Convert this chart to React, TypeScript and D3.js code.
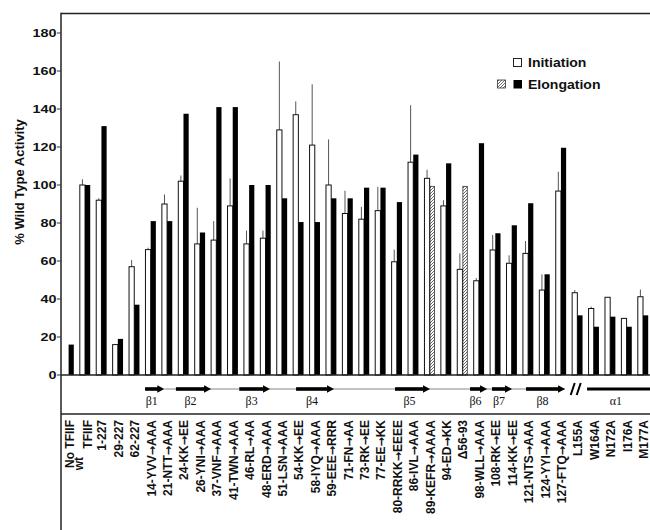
import React from 'react'
import * as d3 from 'd3'

// mutants along the x axis
const labels = [
  'No TFIIF', 'wt TFIIF', '1-227', '29-227', '62-227',
  '14-YVV→AAA', '21-NTT→AAA', '24-KK→EE', '26-YNI→AAA', '37-VNF→AAA',
  '41-TWN→AAA', '46-RL→AA', '48-ERD→AAA', '51-LSN→AAA', '54-KK→EE',
  '58-IYQ→AAA', '59-EEE→RRR', '71-FN→AA', '73-RK→EE', '77-EE→KK',
  '80-RRKK→EEEE', '86-IVL→AAA', '89-KEFR→AAAA', '94-ED→KK', 'Δ56-93',
  '98-WLL→AAA', '108-RK→EE', '114-KK→EE', '121-NTS→AAA', '124-YYI→AAA',
  '127-FTQ→AAA', 'L155A', 'W164A', 'N172A', 'I176A', 'M177A',
]

const initiation = [
  0, 100, 92, 16, 57,
  66, 90, 102, 69, 71,
  89, 69, 72, 129, 137,
  121, 100, 85, 82, 86.5,
  59.6, 112, 103.5, 89, 55.6,
  49.6, 65.8, 58.8, 64, 44.7,
  96.8, 43.3, 35, 40.9, 29.8, 41.2,
]

const initiationErr = [
  0, 103, 93, 16, 60.5,
  67, 95, 105, 88, 81,
  103.5, 76, 76, 165, 144,
  153, 124, 97, 88.5, 99,
  66, 142, 108, 92, 64,
  51, 73.7, 63, 70.5, 53,
  107, 44.7, 36, 41, 30, 45,
]

const elongation = [
  16, 100, 131, 19, 37,
  81, 81, 137.5, 75, 141,
  141, 100, 100, 93, 80.5,
  80.5, 93, 93, 98.6, 98.6,
  91, 116, 99.3, 111.4, 99.3,
  122, 74.6, 78.8, 90.4, 53,
  119.6, 31.4, 25.4, 30.7, 25.4, 31.4,
]

// elongation bars drawn hatched
const hatched = ['89-KEFR→AAAA', 'Δ56-93']

const yTicks = [0, 20, 40, 60, 80, 100, 120, 140, 160, 180]

// secondary structure, in units of mutant position
const strands = [
  { name: 'β1', from: 4.66, to: 5.83 },
  { name: 'β2', from: 6.54, to: 8.68 },
  { name: 'β3', from: 10.4, to: 12.27 },
  { name: 'β4', from: 13.86, to: 16.17 },
  { name: 'β5', from: 19.89, to: 22.02 },
  { name: 'β6', from: 24.46, to: 25.5 },
  { name: 'β7', from: 25.8, to: 27.02 },
  { name: 'β8', from: 27.87, to: 30.25 },
]
const loop = [5.83, 30.25]
const breakAt = 30.9
const helix = { name: 'α1', from: 31.59, to: 35.6 }

// label text with the arrow set in a font that has a proper long arrow
function Label({ text }: { text: string }) {
  const parts = text.split('→')
  if (parts.length < 2) return <>{text}</>
  return (
    <>
      {parts[0]}
      <tspan fontFamily="DejaVu Sans" fontSize={11}>→</tspan>
      {parts[1]}
    </>
  )
}

export default function App() {
  const W = 650, H = 530
  const left = 61, top = 13.5, zeroY = 375, baseY = 414

  const x = d3.scaleBand<string>().domain(labels).range([60.4, 651.2])
  const bw = 5.2
  const cx = (l: string) => (x(l) as number) + x.bandwidth() / 2
  const pos = d3.scaleLinear().domain([0, labels.length - 1])
    .range([cx(labels[0]), cx(labels[labels.length - 1])])
  const y = d3.scaleLinear().domain([0, 180]).range([zeroY, 33])

  const sans = 'Liberation Sans, Arial, sans-serif'
  const serif = 'Liberation Serif, Times New Roman, serif'
  const arrowY = 389

  return (
    <svg width={W} height={H} style={{ position: 'absolute', left: 0, top: 0, background: '#fff' }}>
      <defs>
        <pattern id="hatch" patternUnits="userSpaceOnUse" width="3" height="3">
          <rect width="3" height="3" fill="#fff" />
          <path d="M-1,1 L1,-1 M0,3 L3,0 M2,4 L4,2" stroke="#444" strokeWidth="0.8" />
        </pattern>
      </defs>

      {/* bars */}
      {labels.map((l, i) => {
        const c = cx(l)
        return (
          <g key={l}>
            {initiation[i] > 0 && initiationErr[i] > initiation[i] &&
              <line x1={c - bw / 2} x2={c - bw / 2} y1={y(initiation[i])} y2={y(initiationErr[i])}
                stroke="#555" strokeWidth={1} />}
            {initiation[i] > 0 &&
              <rect x={c - bw} y={y(initiation[i])} width={bw} height={zeroY - y(initiation[i])}
                fill="#fff" stroke="#111" strokeWidth={1} />}
            {hatched.includes(l)
              ? <rect x={c + 0.4} y={y(elongation[i])} width={bw - 0.8} height={zeroY - y(elongation[i])}
                  fill="url(#hatch)" stroke="#333" strokeWidth={0.8} />
              : <rect x={c} y={y(elongation[i])} width={bw} height={zeroY - y(elongation[i])} fill="#000" />}
          </g>
        )
      })}

      {/* frame */}
      <line x1={left} x2={W} y1={top} y2={top} stroke="#222" strokeWidth={1.5} />
      <line x1={left} x2={left} y1={top - 0.75} y2={H} stroke="#222" strokeWidth={1.5} />
      <line x1={left} x2={W} y1={zeroY} y2={zeroY} stroke="#222" strokeWidth={1.5} />
      <line x1={left} x2={W} y1={baseY} y2={baseY} stroke="#222" strokeWidth={1.5} />

      {/* y axis */}
      {yTicks.map(t => (
        <g key={t}>
          <line x1={57} x2={left} y1={y(t)} y2={y(t)} stroke="#333" strokeWidth={1} />
          <text transform={`translate(56.5,${y(t) + 4.2}) scale(1.25,1)`} textAnchor="end"
            fontFamily={sans} fontWeight="bold" fontSize={11.5} fill="#111">{t}</text>
        </g>
      ))}
      <text transform="translate(23.5,182) rotate(-90)" textAnchor="middle"
        fontFamily={sans} fontWeight="bold" fontSize={13} fill="#111">% Wild Type Activity</text>

      {/* legend */}
      <rect x={513.5} y={58.5} width={8} height={8} fill="#fff" stroke="#222" strokeWidth={1} />
      <text transform="translate(528,67) scale(1.17,1)" fontFamily={sans} fontWeight="bold" fontSize={12} fill="#111">Initiation</text>
      <rect x={497.5} y={80} width={8} height={8} fill="url(#hatch)" stroke="#333" strokeWidth={0.8} />
      <rect x={513.5} y={80} width={8.5} height={8.5} fill="#000" />
      <text transform="translate(528,88.5) scale(1.17,1)" fontFamily={sans} fontWeight="bold" fontSize={12} fill="#111">Elongation</text>

      {/* secondary structure */}
      <line x1={pos(loop[0])} x2={pos(loop[1])} y1={arrowY} y2={arrowY} stroke="#888" strokeWidth={1} />
      {strands.map(s => {
        const x0 = pos(s.from), x1 = pos(s.to)
        return (
          <g key={s.name}>
            <rect x={x0} y={arrowY - 1.8} width={x1 - x0 - 6} height={3.6} fill="#000" />
            <path d={`M${x1 - 7},${arrowY - 3.8} L${x1},${arrowY} L${x1 - 7},${arrowY + 3.8} Z`} fill="#000" />
            <text x={(x0 + x1) / 2 - 3} y={404.5} textAnchor="middle" fontFamily={serif} fontSize={12} fill="#111">{s.name}</text>
          </g>
        )
      })}
      <path d={`M${pos(breakAt) - 5},${arrowY + 6} L${pos(breakAt) - 1},${arrowY - 6} M${pos(breakAt) + 1},${arrowY + 6} L${pos(breakAt) + 5},${arrowY - 6}`}
        stroke="#000" strokeWidth={2} />
      <line x1={pos(helix.from)} x2={pos(helix.to)} y1={arrowY} y2={arrowY} stroke="#000" strokeWidth={3} />
      <text x={pos((helix.from + helix.to) / 2) - 4} y={404.5} textAnchor="middle" fontFamily={serif} fontSize={12} fill="#111">{helix.name}</text>

      {/* x labels */}
      {labels.map(l => {
        const c = cx(l)
        if (l === 'wt TFIIF') {
          return (
            <g key={l} fontFamily={sans} fontWeight="bold" fontSize={12} fill="#111">
              <text transform={`translate(${c - 2},457) rotate(-90)`} textAnchor="end">wt</text>
              <text transform={`translate(${c + 7},420) rotate(-90)`} textAnchor="end">TFIIF</text>
            </g>
          )
        }
        return (
          <text key={l} transform={`translate(${c + 5},420) rotate(-90)`} textAnchor="end"
            fontFamily={sans} fontWeight="bold" fontSize={12} fill="#111"><Label text={l} /></text>
        )
      })}
    </svg>
  )
}
